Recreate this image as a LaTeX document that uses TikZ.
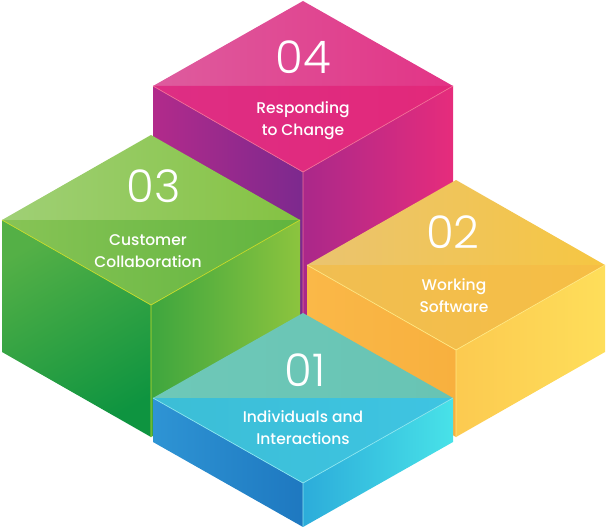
\documentclass[tikz,border=0pt]{standalone}
\usepackage{fontspec}
\setmainfont{Poppins}
\newfontfamily\numfont{Poppins Light}
\newfontfamily\labfont{Poppins Medium}
\usetikzlibrary{calc}
\tikzset{
  numtxt/.style={text=white, font=\numfont\fontsize{45}{45}\selectfont, inner sep=0pt},
  labtxt/.style={text=white, font=\labfont\fontsize{15.5}{22}\selectfont, align=center, inner sep=0pt},
  edgeln/.style={line width=0.7pt},
}
\begin{document}
\begin{tikzpicture}[x=1pt,y=-1pt]
\useasboundingbox (0,0) rectangle (606,527);
% ---------- Box 04 (pink, back) ----------
\begin{scope}[shift={(303,86)}]
  \coordinate (dT) at (0,-85); \coordinate (dL) at (-150,0); \coordinate (dR) at (150,0); \coordinate (dF) at (0,86);
  \coordinate (dBL) at (-150,180); \coordinate (dBF) at (0,266); \coordinate (dBR) at (150,180);
  \shade[left color={rgb,255:red,178;green,42;blue,139}, right color={rgb,255:red,124;green,41;blue,142}] (dL) -- (dF) -- (dBF) -- (dBL) -- cycle;
  \shade[left color={rgb,255:red,170;green,40;blue,138}, right color={rgb,255:red,230;green,44;blue,124}] (dF) -- (dR) -- (dBR) -- (dBF) -- cycle;
  \shade[left color={rgb,255:red,222;green,92;blue,158}, right color={rgb,255:red,226;green,52;blue,134}] (dT) -- (dL) -- (dR) -- cycle;
  \shade[left color={rgb,255:red,222;green,46;blue,132}, right color={rgb,255:red,226;green,40;blue,122}] (dL) -- (dF) -- (dR) -- cycle;
  \draw[edgeln, draw={rgb,255:red,242;green,110;blue,150}] (dL) -- (dF) -- (dR) (dF) -- (dBF);
\end{scope}
% ---------- Box 03 (green, left) ----------
\begin{scope}[shift={(151,220)}]
  \coordinate (cT) at (0,-85); \coordinate (cL) at (-149,0); \coordinate (cR) at (149,0); \coordinate (cF) at (0,85);
  \coordinate (cBL) at (-149,132); \coordinate (cBF) at (0,217); \coordinate (cBR) at (149,132);
  \shade[top color={rgb,255:red,84;green,176;blue,70}, bottom color={rgb,255:red,14;green,148;blue,64}, shading angle=30] (cL) -- (cF) -- (cBF) -- (cBL) -- cycle;
  \shade[left color={rgb,255:red,62;green,166;blue,62}, right color={rgb,255:red,140;green,196;blue,62}] (cF) -- (cR) -- (cBR) -- (cBF) -- cycle;
  \shade[left color={rgb,255:red,160;green,208;blue,118}, right color={rgb,255:red,132;green,194;blue,66}] (cT) -- (cL) -- (cR) -- cycle;
  \shade[left color={rgb,255:red,136;green,196;blue,86}, right color={rgb,255:red,96;green,180;blue,62}] (cL) -- (cF) -- (cR) -- cycle;
  \draw[edgeln, draw={rgb,255:red,200;green,220;blue,40}] (cL) -- (cF) -- (cR) (cF) -- (cBF);
\end{scope}
% ---------- Box 02 (yellow, right) ----------
\begin{scope}[shift={(456,265)}]
  \coordinate (bT) at (0,-85); \coordinate (bL) at (-149,0); \coordinate (bR) at (149,0); \coordinate (bF) at (0,85);
  \coordinate (bBL) at (-149,87); \coordinate (bBF) at (0,172); \coordinate (bBR) at (149,87);
  \shade[left color={rgb,255:red,250;green,184;blue,72}, right color={rgb,255:red,248;green,176;blue,62}] (bL) -- (bF) -- (bBF) -- (bBL) -- cycle;
  \shade[left color={rgb,255:red,252;green,202;blue,80}, right color={rgb,255:red,254;green,222;blue,90}] (bF) -- (bR) -- (bBR) -- (bBF) -- cycle;
  \shade[left color={rgb,255:red,234;green,196;blue,112}, right color={rgb,255:red,246;green,198;blue,66}] (bT) -- (bL) -- (bR) -- cycle;
  \shade[left color={rgb,255:red,240;green,190;blue,82}, right color={rgb,255:red,246;green,190;blue,68}] (bL) -- (bF) -- (bR) -- cycle;
  \draw[edgeln, draw={rgb,255:red,255;green,232;blue,130}] (bL) -- (bF) -- (bR) (bF) -- (bBF);
\end{scope}
% ---------- Box 01 (blue, front) ----------
\begin{scope}[shift={(303,398)}]
  \coordinate (aT) at (0,-85); \coordinate (aL) at (-150,0); \coordinate (aR) at (150,0); \coordinate (aF) at (0,85);
  \coordinate (aBL) at (-150,44); \coordinate (aBF) at (0,129); \coordinate (aBR) at (150,44);
  \shade[left color={rgb,255:red,46;green,148;blue,212}, right color={rgb,255:red,30;green,120;blue,192}] (aL) -- (aF) -- (aBF) -- (aBL) -- cycle;
  \shade[left color={rgb,255:red,44;green,172;blue,218}, right color={rgb,255:red,72;green,226;blue,232}] (aF) -- (aR) -- (aBR) -- (aBF) -- cycle;
  \shade[left color={rgb,255:red,110;green,200;blue,184}, right color={rgb,255:red,104;green,196;blue,180}] (aT) -- (aL) -- (aR) -- cycle;
  \shade[left color={rgb,255:red,60;green,190;blue,214}, right color={rgb,255:red,62;green,196;blue,226}] (aL) -- (aF) -- (aR) -- cycle;
  \draw[edgeln, draw={rgb,255:red,140;green,230;blue,240}] (aL) -- (aF) -- (aR) (aF) -- (aBF);
\end{scope}
% ---------- Texts ----------
\node[numtxt] (n4) at (303,57) {04};
\node[labtxt] (t4) at (303,121) {Responding\\to Change};
\node[numtxt] (n3) at (154,186) {03};
\node[labtxt] (t3) at (148,251) {Customer\\Collaboration};
\node[numtxt] (n2) at (453,232) {02};
\node[labtxt] (t2) at (454,296) {Working\\Software};
\node[numtxt] (n1) at (305,370) {01};
\node[labtxt] (t1) at (303,428) {Individuals and\\Interactions};
\end{tikzpicture}
\end{document}
